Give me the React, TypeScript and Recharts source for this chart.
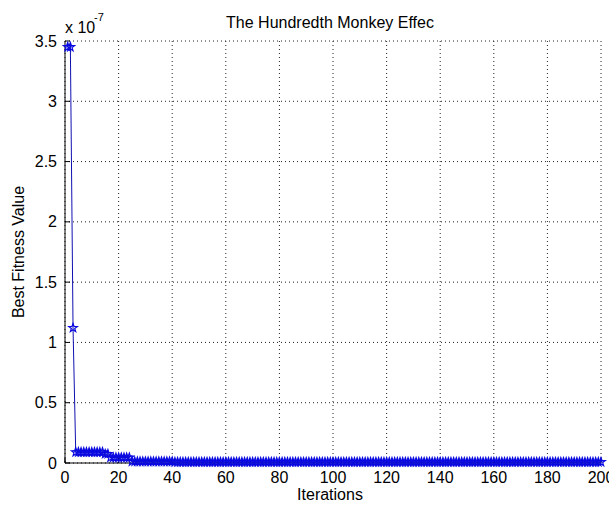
import { LineChart, Line, XAxis, YAxis, CartesianGrid } from 'recharts';

// best fitness per iteration, in units of 1e-7
const bestFitness = [
  3.45, 3.45, 1.12, 0.09, 0.09, 0.09, 0.09, 0.09, 0.09, 0.09, 0.09, 0.09, 0.09, 0.09, 0.075, 0.075, 0.045, 0.045, 0.045, 0.045,
  0.045, 0.045, 0.045, 0.045, 0.012, 0.012, 0.012, 0.012, 0.012, 0.012, 0.012, 0.012, 0.012, 0.012, 0.012, 0.012, 0.012, 0.012, 0.012, 0.012,
  0.008, 0.008, 0.008, 0.008, 0.008, 0.008, 0.008, 0.008, 0.008, 0.008, 0.008, 0.008, 0.008, 0.008, 0.008, 0.008, 0.008, 0.008, 0.008, 0.008,
  0.008, 0.008, 0.008, 0.008, 0.008, 0.008, 0.008, 0.008, 0.008, 0.008, 0.008, 0.008, 0.008, 0.008, 0.008, 0.008, 0.008, 0.008, 0.008, 0.008,
  0.008, 0.008, 0.008, 0.008, 0.008, 0.008, 0.008, 0.008, 0.008, 0.008, 0.008, 0.008, 0.008, 0.008, 0.008, 0.008, 0.008, 0.008, 0.008, 0.008,
  0.008, 0.008, 0.008, 0.008, 0.008, 0.008, 0.008, 0.008, 0.008, 0.008, 0.008, 0.008, 0.008, 0.008, 0.008, 0.008, 0.008, 0.008, 0.008, 0.008,
  0.008, 0.008, 0.008, 0.008, 0.008, 0.008, 0.008, 0.008, 0.008, 0.008, 0.008, 0.008, 0.008, 0.008, 0.008, 0.008, 0.008, 0.008, 0.008, 0.008,
  0.008, 0.008, 0.008, 0.008, 0.008, 0.008, 0.008, 0.008, 0.008, 0.008, 0.008, 0.008, 0.008, 0.008, 0.008, 0.008, 0.008, 0.008, 0.008, 0.008,
  0.008, 0.008, 0.008, 0.008, 0.008, 0.008, 0.008, 0.008, 0.008, 0.008, 0.008, 0.008, 0.008, 0.008, 0.008, 0.008, 0.008, 0.008, 0.008, 0.008,
  0.008, 0.008, 0.008, 0.008, 0.008, 0.008, 0.008, 0.008, 0.008, 0.008, 0.008, 0.008, 0.008, 0.008, 0.008, 0.008, 0.008, 0.008, 0.008, 0.008,
];

const xTicks = [0, 20, 40, 60, 80, 100, 120, 140, 160, 180, 200];
const yTicks = [0, 0.5, 1, 1.5, 2, 2.5, 3, 3.5];

const data = bestFitness.map((v, i) => ({ iter: i + 1, value: v }));

const FONT = '"Liberation Sans", Arial, sans-serif';
const BLUE = '#0a0ae0';

// matlab-ish pentagram marker
function Star(props: any) {
  const { cx, cy, index } = props;
  if (cx == null || cy == null) return null;
  const R = 4.5;
  const r = 1.8;
  let d = '';
  for (let k = 0; k < 10; k++) {
    const rad = k % 2 === 0 ? R : r;
    const a = -Math.PI / 2 + (k * Math.PI) / 5;
    d += (k === 0 ? 'M' : 'L') + (cx + rad * Math.cos(a)).toFixed(2) + ',' + (cy + rad * Math.sin(a)).toFixed(2);
  }
  return <path key={`star-${index}`} d={d + 'Z'} fill="none" stroke={BLUE} strokeWidth={1.2} />;
}

const XTick = (p: any) => (
  <text x={p.x} y={483} textAnchor="middle" fontSize={16} fontFamily={FONT} fill="#000">
    {p.payload.value}
  </text>
);

const YTick = (p: any) => (
  <text x={57} y={p.y + 5.5} textAnchor="end" fontSize={16} fontFamily={FONT} fill="#000">
    {String(p.payload.value)}
  </text>
);

export default function App() {
  return (
    <div style={{ position: 'absolute', left: 0, top: 0, width: 609, height: 507, background: '#fff' }}>
      <LineChart width={609} height={507} data={data} margin={{ top: 41, right: 8, bottom: 0, left: 0 }}>
        <CartesianGrid stroke="#222" strokeDasharray="1 3" />
        <XAxis
          dataKey="iter"
          type="number"
          domain={[0, 200]}
          ticks={xTicks}
          height={44}
          stroke="#000"
          tickSize={-5}
          tick={XTick}
          interval={0}
        />
        <XAxis
          xAxisId="top"
          orientation="top"
          type="number"
          domain={[0, 200]}
          ticks={xTicks}
          height={0}
          stroke="#000"
          tickSize={-5}
          tickFormatter={() => ''}
          interval={0}
        />
        <YAxis
          type="number"
          domain={[0, 3.5]}
          ticks={yTicks}
          width={65}
          stroke="#000"
          tickSize={-5}
          tick={YTick}
          interval={0}
        />
        <YAxis
          yAxisId="right"
          orientation="right"
          type="number"
          domain={[0, 3.5]}
          ticks={yTicks}
          width={0}
          stroke="#000"
          tickSize={-5}
          tickFormatter={() => ''}
          interval={0}
        />
        <Line
          dataKey="value"
          type="linear"
          stroke="#1010b0"
          strokeWidth={1}
          dot={Star}
          activeDot={false}
          isAnimationActive={false}
        />
      </LineChart>
      <svg width={609} height={507} style={{ position: 'absolute', left: 0, top: 0, pointerEvents: 'none' }}>
        <text x={330} y={28} textAnchor="middle" fontSize={16} fontFamily={FONT} fill="#000">
          The Hundredth Monkey Effec
        </text>
        <text x={65} y={33} fontSize={16} fontFamily={FONT} fill="#000">
          x 10
        </text>
        <text x={94} y={21} fontSize={11} fontFamily={FONT} fill="#000">
          -7
        </text>
        <text x={330} y={500} textAnchor="middle" fontSize={16} fontFamily={FONT} fill="#000">
          Iterations
        </text>
        <text
          x={24}
          y={252}
          textAnchor="middle"
          fontSize={16}
          fontFamily={FONT}
          fill="#000"
          transform="rotate(-90 24 252)"
        >
          Best Fitness Value
        </text>
      </svg>
    </div>
  );
}
